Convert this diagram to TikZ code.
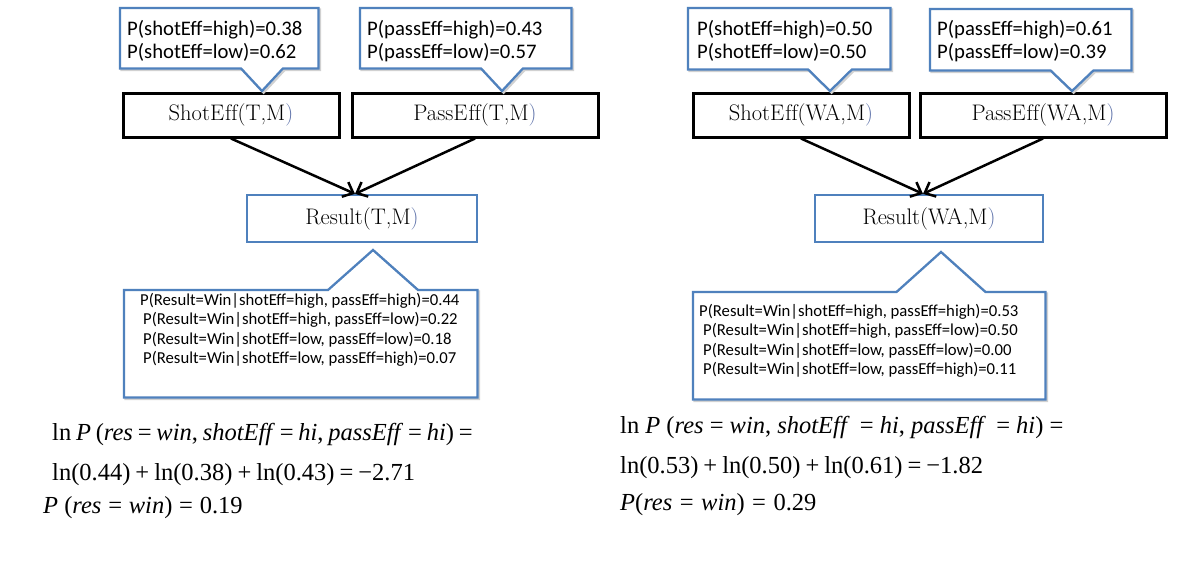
\documentclass[tikz,border=0pt]{standalone}
\usepackage{fontspec}
\usetikzlibrary{arrows.meta,calc}
\newfontfamily\calfont{Carlito}
\newfontfamily\eqfont{Liberation Serif}
\definecolor{cblue}{RGB}{79,129,189}
\definecolor{parblue}{RGB}{95,115,170}
\newcommand\rp{\textcolor{parblue}{)}}
\newcommand\Ef{E\hspace{1pt}f\kern0ptf}
\newcommand\Eff{Ef\kern0ptf}
\newcommand\opsp{\hspace{5pt}}
\newcommand\rsp{\hspace{7.5pt}}
\begin{document}
\begin{tikzpicture}[x=1pt,y=-1pt,
  cline/.style={draw=cblue,line width=2.3pt,fill=white,line join=miter,
    preaction={draw=black!18,line width=2.3pt,transform canvas={shift={(1.6pt,-1.6pt)}}}},
  cbox/.style={draw=none,inner sep=0pt,anchor=north west},
  priortext/.style={anchor=north west,inner sep=0pt,align=left,font=\calfont\fontsize{20.7}{23}\selectfont},
  cpttext/.style={anchor=north west,inner sep=0pt,align=left,font=\calfont\fontsize{16.7}{19.5}\selectfont},
  varbox/.style={draw=black,line width=3pt,inner sep=0pt,minimum height=44pt,font=\fontsize{22.5}{26}\selectfont},
  resbox/.style={draw=cblue,line width=2.3pt,inner sep=0pt,minimum height=47pt,font=\fontsize{22.5}{26}\selectfont},
  link/.style={draw=black,line width=2.5pt,-{Straight Barb[length=9pt,width=16pt]}},
  eqtext/.style={anchor=base west,inner sep=0pt,font=\eqfont\fontsize{24.5}{28}\selectfont}
]
\useasboundingbox[fill=white] (0,0) rectangle (1193,563);

% ---------------- left network ----------------
\node[varbox,minimum width=216pt] (shot1) at (231,115) {Shot\Ef(T,M\rp};
\node[varbox,minimum width=246pt] (pass1) at (475,115) {Pass\Ef(T,M\rp};
\node[resbox,minimum width=230pt] (res1) at (362,218.5) {Result(T,M\rp};
\coordinate (m1) at ($(res1.north)+(-7,0)$);
\draw[link] (shot1.south) -- (m1);
\draw[link] (pass1.south) -- (m1);

\node[cbox,minimum width=198pt,minimum height=60pt] (c1) at (120,8) {};
\coordinate (t1) at (262,91);
\draw[cline] (c1.north west) -- (c1.north east) -- (c1.south east)
  -- ($(c1.south -| t1)+(21,0)$) -- (t1) -- ($(c1.south -| t1)+(-21,0)$)
  -- (c1.south west) -- cycle;
\node[priortext] (c1t) at (127,15) {\rule{0pt}{20pt}P(shotEff=high)=0.38\\P(shotEff=low)=0.62};

\node[cbox,minimum width=211pt,minimum height=60pt] (c2) at (360,8) {};
\coordinate (t2) at (502,91);
\draw[cline] (c2.north west) -- (c2.north east) -- (c2.south east)
  -- ($(c2.south -| t2)+(21,0)$) -- (t2) -- ($(c2.south -| t2)+(-21,0)$)
  -- (c2.south west) -- cycle;
\node[priortext] (c2t) at (367,15) {\rule{0pt}{20pt}P(passEff=high)=0.43\\P(passEff=low)=0.57};

\node[cbox,minimum width=353pt,minimum height=107pt] (c3) at (124,290) {};
\coordinate (t3) at (373,250);
\draw[cline] (c3.north west) -- ($(c3.north -| t3)+(-45,0)$) -- (t3)
  -- ($(c3.north -| t3)+(45,0)$) -- (c3.north east) -- (c3.south east)
  -- (c3.south west) -- cycle;
\node[cpttext] (c3t) at (140,288) {\rule{0pt}{17pt}P(Result=Win|shotEff=high, passEff=high)=0.44\\
\hspace{3pt}P(Result=Win|shotEff=high, passEff=low)=0.22\\
\hspace{3pt}P(Result=Win|shotEff=low, passEff=low)=0.18\\
\hspace{3pt}P(Result=Win|shotEff=low, passEff=high)=0.07};

\node[eqtext] (e1) at (52,440) {\spaceskip=4.8pt ln \textit{P} (\textit{res} = \textit{win}, \textit{shot\Eff} = \textit{hi}, \textit{pass\Eff} = \textit{hi}) =};
\node[eqtext] (e2) at (52,480) {ln(0.44)\opsp+\opsp ln(0.38)\opsp+\opsp ln(0.43)\opsp=\opsp −2.71};
\node[eqtext] (e3) at (43,513) {\textit{P} (\textit{res}\hspace{6.8pt}=\hspace{6.8pt}\textit{win})\hspace{6.8pt}=\hspace{6.8pt}0.19};

% ---------------- right network ----------------
\node[varbox,minimum width=216pt] (shot2) at (801,115) {Shot\Ef(WA,M\rp};
\node[varbox,minimum width=246pt] (pass2) at (1043,115) {Pass\Ef(WA,M\rp};
\node[resbox,minimum width=228pt] (res2) at (929,218.5) {Result(WA,M\rp};
\coordinate (m2) at ($(res2.north)+(-6,0)$);
\draw[link] (shot2.south) -- (m2);
\draw[link] (pass2.south) -- (m2);

\node[cbox,minimum width=202pt,minimum height=61pt] (c4) at (688,8) {};
\coordinate (t4) at (830,91);
\draw[cline] (c4.north west) -- (c4.north east) -- (c4.south east)
  -- ($(c4.south -| t4)+(22,0)$) -- (t4) -- ($(c4.south -| t4)+(-22,0)$)
  -- (c4.south west) -- cycle;
\node[priortext] (c4t) at (697,15) {\rule{0pt}{20pt}P(shotEff=high)=0.50\\P(shotEff=low)=0.50};

\node[cbox,minimum width=201pt,minimum height=61pt] (c5) at (930,9) {};
\coordinate (t5) at (1072,91);
\draw[cline] (c5.north west) -- (c5.north east) -- (c5.south east)
  -- ($(c5.south -| t5)+(21.5,0)$) -- (t5) -- ($(c5.south -| t5)+(-21.5,0)$)
  -- (c5.south west) -- cycle;
\node[priortext] (c5t) at (937,15) {\rule{0pt}{20pt}P(passEff=high)=0.61\\P(passEff=low)=0.39};

\node[cbox,minimum width=352pt,minimum height=107pt] (c6) at (693,292) {};
\coordinate (t6) at (941,252);
\draw[cline] (c6.north west) -- ($(c6.north -| t6)+(-44.5,0)$) -- (t6)
  -- ($(c6.north -| t6)+(44.5,0)$) -- (c6.north east) -- (c6.south east)
  -- (c6.south west) -- cycle;
\node[cpttext] (c6t) at (699,299) {\rule{0pt}{17pt}P(Result=Win|shotEff=high, passEff=high)=0.53\\
\hspace{4pt}P(Result=Win|shotEff=high, passEff=low)=0.50\\
\hspace{4pt}P(Result=Win|shotEff=low, passEff=low)=0.00\\
\hspace{4pt}P(Result=Win|shotEff=low, passEff=high)=0.11};

\node[eqtext] (e4) at (620,433) {ln \textit{P} (\textit{res} = \textit{win}, \textit{shot\Eff}\, = \textit{hi}, \textit{pass\Eff}\, = \textit{hi}) =};
\node[eqtext] (e5) at (620,473) {ln(0.53)\opsp+\opsp ln(0.50)\opsp+\opsp ln(0.61)\opsp=\opsp −1.82};
\node[eqtext] (e6) at (620,510) {\textit{P}(\textit{res}\rsp=\rsp\textit{win})\rsp=\rsp0.29};
\end{tikzpicture}
\end{document}
